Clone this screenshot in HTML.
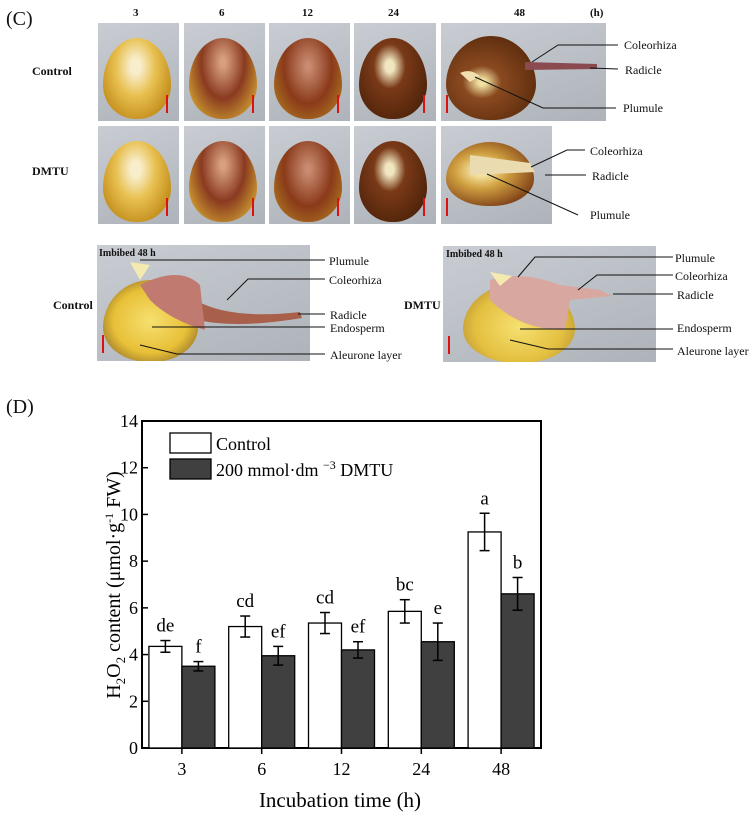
<!DOCTYPE html>
<html><head><meta charset="utf-8"><style>
body{margin:0;width:754px;height:820px;background:#fff;position:relative;overflow:hidden;font-family:"Liberation Serif",serif}
.ph{position:absolute;background:linear-gradient(160deg,#c9cdd3,#aeb3ba);overflow:hidden}
.seed{position:absolute;border-radius:50% 50% 48% 48%/58% 58% 42% 42%;}
.t{position:absolute;font-size:11px;color:#111;white-space:nowrap;line-height:1}
.b{font-weight:bold}
.sb{position:absolute;width:2px;background:#e01010}
</style></head><body>
<div class="t" style="left:6px;top:9px;font-size:20px">(C)</div>
<div id="photos"></div>
<svg id="lines" width="754" height="400" style="position:absolute;left:0;top:0"></svg>
<div class="t" style="left:6px;top:397px;font-size:20px">(D)</div>
<svg id="chart" width="754" height="820" style="position:absolute;left:0;top:0"></svg>
<script>
const categories=["3","6","12","24","48"];
const controlVals=[4.35,5.2,5.35,5.85,9.25];
const controlErr=[0.25,0.45,0.45,0.5,0.8];
const dmtuVals=[3.5,3.95,4.2,4.55,6.6];
const dmtuErr=[0.2,0.4,0.35,0.8,0.7];
const controlLetters=["de","cd","cd","bc","a"];
const dmtuLetters=["f","ef","ef","e","b"];
const yTicks=[0,2,4,6,8,10,12,14];

const NS="http://www.w3.org/2000/svg";
function mk(p,tag,at,txt){const e=document.createElementNS(NS,tag);for(const k in at)e.setAttribute(k,at[k]);if(txt!=null)e.textContent=txt;p.appendChild(e);return e;}
const P=document.getElementById('photos');
function photo(x,y,w,h,name,seedCss,bar){const d=document.createElement('div');d.className='ph';d.style.cssText=`left:${x}px;top:${y}px;width:${w}px;height:${h}px`;


const s=document.createElement('div');s.className='seed';s.style.cssText=seedCss;d.appendChild(s);
const b=document.createElement('div');b.className='sb';b.style.cssText=bar;d.appendChild(b);P.appendChild(d);return d;}
const xs=[[98,81],[184,81],[269,81],[354,82]];
const cols=["radial-gradient(ellipse at 48% 35%,#f8eecc 10%,#e8c050 40%,#c08a18 80%)","radial-gradient(ellipse at 50% 30%,#d8a080 5%,#8a3a20 45%,#d0a030 85%)","radial-gradient(ellipse at 50% 35%,#c88a70 5%,#8a3a1a 50%,#b07a20 90%)","radial-gradient(ellipse at 45% 35%,#f0e6c0 8%,#7a3a18 30%,#4a2008 85%)"];
for(let r=0;r<2;r++){const y=r?126:23;xs.forEach((c,i)=>{photo(c[0],y,c[1],98,'seed-photo-'+(r?'dmtu':'control')+'-'+categories[i],`left:5px;top:15px;width:68px;height:81px;background:${cols[i]}`,`right:11px;bottom:8px;height:18px`);});}
photo(441,23,165,98,'seed-photo-control-48',"left:5px;top:13px;width:90px;height:84px;background:radial-gradient(ellipse at 40% 55%,#f0e0a0 5%,#8a4a20 25%,#5a2a0c 80%)","left:5px;bottom:8px;height:18px");
photo(441,126,111,98,'seed-photo-dmtu-48',"left:5px;top:16px;width:88px;height:64px;background:radial-gradient(ellipse at 40% 45%,#f4e4a0 10%,#d0a040 35%,#7a3a15 80%)","left:5px;bottom:8px;height:18px");
photo(97,245,213,116,'section-photo-control',"left:6px;top:35px;width:95px;height:82px;background:radial-gradient(ellipse at 50% 50%,#f6e070,#e8c038 55%,#6a4a20)","left:5px;bottom:8px;height:18px");
photo(443,246,213,116,'section-photo-dmtu',"left:20px;top:37px;width:112px;height:80px;background:radial-gradient(ellipse at 50% 55%,#f6e070,#e4c040 55%,#a07a30)","left:5px;bottom:8px;height:18px");
const L=document.getElementById('lines');
mk(L,'path',{d:'M525 62 L597 64 L597 69 L525 70Z',fill:'#8a4a50'});
mk(L,'path',{d:'M460 73 Q470 68 480 76 L470 82Z',fill:'#f0e0b0'});
mk(L,'path',{d:'M470 155 L530 163 L535 172 L470 175Z',fill:'#eadcb0'});
mk(L,'path',{d:'M195 300 Q230 320 300 312 L302 318 Q230 330 190 318Z',fill:'#a8604a'});
mk(L,'path',{d:'M140 285 Q180 265 200 285 L205 330 Q170 320 150 300Z',fill:'#c07a70'});
mk(L,'path',{d:'M130 262 L150 265 L140 280Z',fill:'#f4eab0'});
mk(L,'path',{d:'M490 280 Q520 270 560 285 L600 290 L612 296 L570 300 L565 330 Q520 330 490 300Z',fill:'#d8a8a0'});
mk(L,'path',{d:'M490 272 L512 276 L500 286Z',fill:'#f4eab0'});
function T(x,y,s,cls,name,fs){const d=document.createElement('div');d.className='t '+(cls||'');d.style.left=x+'px';d.style.top=y+'px';if(fs)d.style.fontSize=fs+'px';d.textContent=s;


document.body.appendChild(d);}
[["3",133],["6",219],["12",302],["24",388],["48",514],["(h)",590]].forEach(a=>T(a[1],8,a[0],'b','time-header-'+a[0]));
T(32,65,'Control','b','row-label-control',12);T(32,165,'DMTU','b','row-label-dmtu',12);
T(53,299,'Control','b','section-label-control',12);T(404,299,'DMTU','b','section-label-dmtu',12);
T(99,249,'Imbibed 48 h','b','imbibed-label-control',10);T(446,250,'Imbibed 48 h','b','imbibed-label-dmtu',10);
const ann=[["Coleorhiza",624,39,[[618,45],[558,45],[532,62]]],["Radicle",625,64,[[618,69],[590,68]]],["Plumule",623,102,[[616,108],[543,108],[475,77]]],
["Coleorhiza",590,145,[[585,150],[567,150],[531,167]]],["Radicle",592,170,[[586,175],[545,175]]],["Plumule",590,209,[[578,215],[487,174]]],
["Plumule",329,255,[[325,260],[140,260]]],["Coleorhiza",329,274,[[325,279],[248,279],[227,300]]],["Radicle",330,309,[[325,314],[298,314]]],["Endosperm",330,322,[[325,327],[152,327]]],["Aleurone layer",330,349,[[325,354],[177,354],[140,345]]],
["Plumule",675,252,[[673,257],[535,257],[518,277]]],["Coleorhiza",675,270,[[673,275],[597,275],[578,290]]],["Radicle",677,289,[[673,294],[613,294]]],["Endosperm",677,322,[[673,329],[520,329]]],["Aleurone layer",677,345,[[673,349],[548,349],[510,340]]]];
ann.forEach((a,i)=>{T(a[1],a[2],a[0],'','annotation-'+a[0].toLowerCase().replace(' ','-')+'-'+i,12);mk(L,'polyline',{points:a[3].map(p=>p.join(',')).join(' '),fill:'none',stroke:'#111','stroke-width':1});});

const C=document.getElementById('chart');
const X0=142,X1=541,Y0=748,Y1=421,yMax=14;
const y=v=>Y0-(v/yMax)*(Y0-Y1);
const band=(X1-X0)/categories.length;
const cx=i=>X0+band*(i+0.5);
const bw=33;
mk(C,'rect',{x:X0,y:Y1,width:X1-X0,height:Y0-Y1,fill:'none',stroke:'#000','stroke-width':2});
yTicks.forEach(t=>{const g=mk(C,'g',{});
mk(g,'line',{x1:X0,x2:X0+6,y1:y(t),y2:y(t),stroke:'#000','stroke-width':1.5});
mk(g,'text',{x:X0-4,y:y(t)+6,'text-anchor':'end','font-size':18,'font-family':'Liberation Serif'},String(t));});
function bar(i,v,e,off,fill,lbl,name){const g=mk(C,'g',{});
const x=cx(i)+off;mk(g,'rect',{x:x,y:y(v),width:bw,height:Y0-y(v),fill:fill,stroke:'#000','stroke-width':1.3});
const m=x+bw/2;mk(g,'line',{x1:m,x2:m,y1:y(v+e),y2:y(v-e),stroke:'#000','stroke-width':1.5});
[v+e,v-e].forEach(q=>mk(g,'line',{x1:m-5,x2:m+5,y1:y(q),y2:y(q),stroke:'#000','stroke-width':1.5}));
mk(g,'text',{x:m,y:y(v+e)-9,'text-anchor':'middle','font-size':19,'font-family':'Liberation Serif'},lbl);}
categories.forEach((c,i)=>{bar(i,controlVals[i],controlErr[i],-bw,'#fff',controlLetters[i],'bar-control-'+c);bar(i,dmtuVals[i],dmtuErr[i],0,'#404040',dmtuLetters[i],'bar-dmtu-'+c);
const g=mk(C,'g',{});
mk(g,'line',{x1:cx(i),x2:cx(i),y1:Y0,y2:Y0+6,stroke:'#000','stroke-width':1.5});
mk(g,'text',{x:cx(i),y:Y0+27,'text-anchor':'middle','font-size':18,'font-family':'Liberation Serif'},c);});
let g=mk(C,'g',{});
mk(g,'rect',{x:170,y:433,width:41,height:20,fill:'#fff',stroke:'#000','stroke-width':1.3});
mk(g,'text',{x:216,y:450,'font-size':18,'font-family':'Liberation Serif'},'Control');
mk(g,'rect',{x:170,y:459,width:41,height:20,fill:'#404040',stroke:'#000','stroke-width':1.3});
const tx=mk(g,'text',{x:216,y:476,'font-size':18,'font-family':'Liberation Serif'},'200 mmol·dm ');
mk(tx,'tspan',{dy:-7,'font-size':12},'−3');mk(tx,'tspan',{dy:7},' DMTU');
const yl=mk(C,'text',{x:0,y:0,transform:'translate(120,585) rotate(-90)','text-anchor':'middle','font-size':20,'font-family':'Liberation Serif'},'H');

mk(yl,'tspan',{dy:5,'font-size':13},'2');mk(yl,'tspan',{dy:-5},'O');mk(yl,'tspan',{dy:5,'font-size':13},'2');mk(yl,'tspan',{dy:-5},' content (μmol·g');mk(yl,'tspan',{dy:-7,'font-size':12},'-1');mk(yl,'tspan',{dy:7},' FW)');
const xl=mk(C,'text',{x:340,y:807,'text-anchor':'middle','font-size':21,'font-family':'Liberation Serif'},'Incubation time (h)');

</script>
</body></html>
